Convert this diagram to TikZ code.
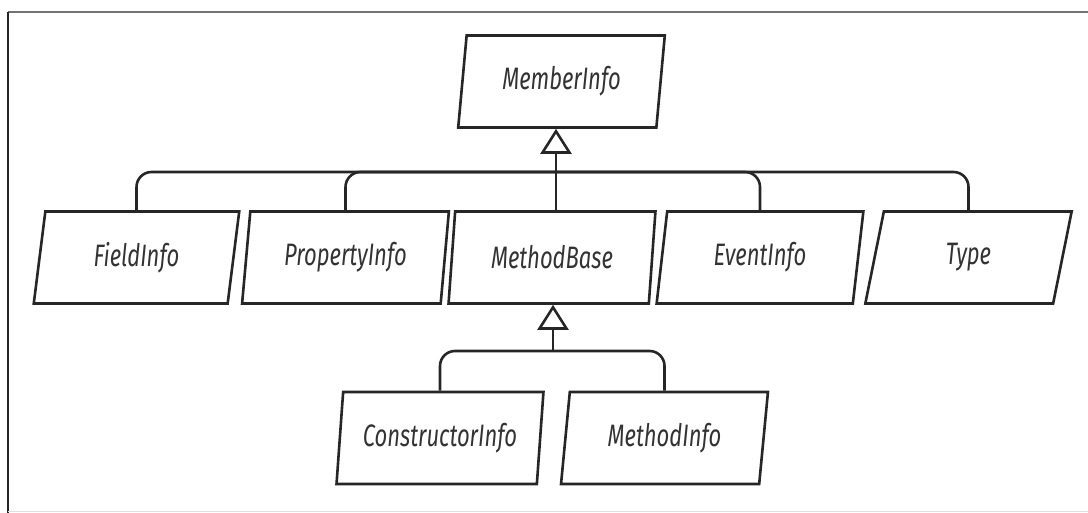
\documentclass[tikz,border=0pt]{standalone}
\usepackage{fontspec}
\newfontfamily\lblfont{Fira Sans}[FakeStretch=0.71]
\usetikzlibrary{shapes.geometric,arrows.meta}
\begin{document}
\begin{tikzpicture}[x=1pt,y=-1pt,
  cls/.style={draw=black!85, line width=2.6pt, fill=white,
    trapezium, trapezium left angle=80, trapezium right angle=100,
    trapezium stretches=true, minimum width=207pt, minimum height=92pt,
    inner sep=0pt, font=\lblfont\itshape\fontsize{31}{31}\selectfont,
    text=black!80},
  conn/.style={draw=black!85, line width=2.6pt, rounded corners=15pt},
  gen/.style={draw=black!85, line width=2.6pt,
    -{Triangle[open, length=25pt, width=31pt, line width=2.6pt]}},
]
\useasboundingbox (0,0) rectangle (1088,513);
% frame
\draw[line width=2.2pt, black!55] (1088,12) -- (8,12);
\draw[line width=2.6pt, black!85] (8,12) -- (8,513);
\draw[line width=1.5pt, black!12] (8,511.5) -- (1088,511.5);

% classes
\node[cls] (mem) at (561.5,81.5) {MemberInfo};
\node[cls] (field) at (136.5,257.5) {FieldInfo};
\node[cls] (prop) at (345.5,257.5) {PropertyInfo};
\node[cls] (mb) at (552,257.5) {MethodBase};
\node[cls] (ev) at (760,257.5) {EventInfo};
\node[cls] (type) at (968.5,257.5) {Type};
\node[cls] (ctor) at (440,438) {ConstructorInfo};
\node[cls] (mi) at (664.5,438) {MethodInfo};

% inheritance buses
\coordinate (bus1) at (556,172);
\coordinate (bus2) at (553,351);
\draw[gen] (bus1) -- (bus1 |- mem.south);
\draw[conn] (bus1) -- (bus1 |- mb.north);
\foreach \c in {field,prop,ev,type}
  \draw[conn] (\c.north) |- (bus1);
\draw[gen] (bus2) -- (bus2 |- mb.south);
\foreach \c in {ctor,mi}
  \draw[conn] (\c.north) |- (bus2);
\end{tikzpicture}
\end{document}
